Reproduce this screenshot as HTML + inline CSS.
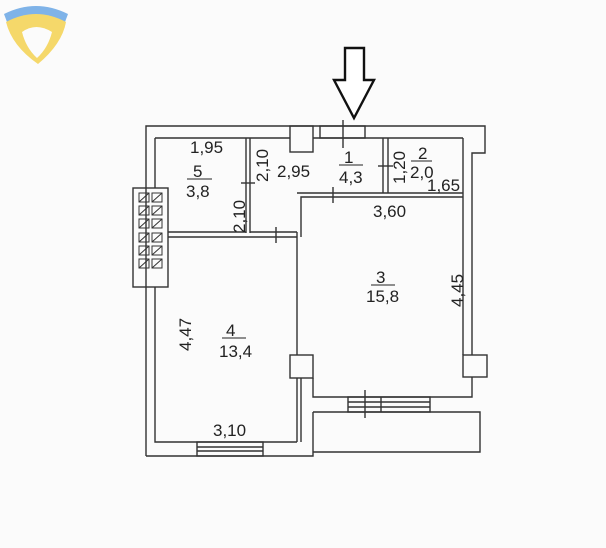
<!DOCTYPE html>
<html><head><style>body{margin:0;background:#fbfbfb}svg{display:block}text{font-family:"Liberation Sans",sans-serif;font-size:17px;fill:#222}</style></head><body>
<svg width="606" height="548" viewBox="0 0 606 548">
<rect width="606" height="548" fill="#fbfbfb"/>
<path d="M4 14 Q36 -2 68 14 L62 30 Q36 18 10 30 Z" fill="#7fb3e8"/>
<path d="M6 22 Q36 6 66 22 Q62 44 38 64 Q12 46 6 22 Z" fill="#f5d86a"/>
<path d="M22 32 Q36 22 52 32 Q48 48 37 58 Q26 48 22 32 Z" fill="#fbfbfb"/>
<g fill="none" stroke="#333" stroke-width="1.4">
<polyline points="146,456 146,126 485,126 485,153 472,153 472,355"/>
<polyline points="155,287 155,442 297,442"/>
<polyline points="146,456 313,456 313,452"/>
<line x1="155" y1="138" x2="155" y2="188"/>
<line x1="155" y1="138" x2="290" y2="138"/>
<line x1="313" y1="138" x2="463" y2="138"/>
<line x1="463" y1="138" x2="463" y2="355"/>
<rect x="290" y="126" width="23" height="26"/>
<rect x="320" y="126" width="45" height="12"/>
<line x1="343" y1="120" x2="343" y2="148"/>
<polyline points="246,138 246,233"/>
<polyline points="250,138 250,233"/>
<line x1="168" y1="232" x2="246" y2="232"/>
<line x1="168" y1="237" x2="297" y2="237"/>
<line x1="250" y1="232" x2="297" y2="232"/>
<line x1="276" y1="227" x2="276" y2="243"/>
<line x1="241" y1="183" x2="255" y2="183"/>
<polyline points="297,232 297,355"/>
<polyline points="301,237 301,197 463,197"/>
<polyline points="297,193 463,193"/>
<line x1="333" y1="187" x2="333" y2="203"/>
<line x1="383" y1="138" x2="383" y2="193"/>
<line x1="388" y1="138" x2="388" y2="193"/>
<line x1="378" y1="166" x2="393" y2="166"/>
<rect x="290" y="355" width="23" height="23"/>
<rect x="463" y="355" width="24" height="22"/>
<line x1="297" y1="378" x2="297" y2="442"/>
<line x1="301" y1="378" x2="301" y2="442"/>
<polyline points="313,378 313,397 472,397 472,377"/>
<polyline points="313,412 480,412 480,452 313,452"/>
<line x1="313" y1="412" x2="313" y2="452"/>
<rect x="348" y="397" width="82" height="15"/>
<line x1="348" y1="402" x2="430" y2="402"/><line x1="348" y1="407" x2="430" y2="407"/>
<line x1="381" y1="397" x2="381" y2="412"/>
<line x1="365" y1="390" x2="365" y2="418"/>
<rect x="197" y="442" width="66" height="14"/>
<line x1="197" y1="447" x2="263" y2="447"/><line x1="197" y1="451" x2="263" y2="451"/>
<rect x="133" y="188" width="35" height="99"/>
</g>
<g fill="none" stroke="#333" stroke-width="1">
<g id="v"><rect x="139" y="193" width="10" height="9"/><line x1="139" y1="202" x2="149" y2="193"/><rect x="152" y="193" width="10" height="9"/><line x1="152" y1="202" x2="162" y2="193"/></g>
<use href="#v" y="13"/><use href="#v" y="26"/><use href="#v" y="40"/><use href="#v" y="53"/><use href="#v" y="66"/>
</g>
<path d="M345 48 L364 48 L364 80 L374 80 L354 118 L334 80 L345 80 Z" fill="#fff" stroke="#111" stroke-width="2.4"/>
<text x="190" y="153">1,95</text>
<text x="193" y="177">5</text><line x1="187" y1="179" x2="212" y2="179" stroke="#222"/>
<text x="186" y="197">3,8</text>
<text x="277" y="177">2,95</text>
<text x="344" y="163">1</text><line x1="339" y1="165" x2="363" y2="165" stroke="#222"/>
<text x="339" y="183">4,3</text>
<text x="418" y="159">2</text><line x1="411" y1="161" x2="432" y2="161" stroke="#222"/>
<text x="410" y="178">2,0</text>
<text x="427" y="191">1,65</text>
<text x="373" y="217">3,60</text>
<text x="376" y="283">3</text><line x1="371" y1="285" x2="395" y2="285" stroke="#222"/>
<text x="366" y="302">15,8</text>
<text x="226" y="336">4</text><line x1="222" y1="338" x2="246" y2="338" stroke="#222"/>
<text x="219" y="357">13,4</text>
<text x="213" y="436">3,10</text>
<text transform="translate(268,182) rotate(-90)">2,10</text>
<text transform="translate(245,233) rotate(-90)">2,10</text>
<text transform="translate(405,184) rotate(-90)">1,20</text>
<text transform="translate(463,307) rotate(-90)">4,45</text>
<text transform="translate(191,351) rotate(-90)">4,47</text>
</svg>
</body></html>
